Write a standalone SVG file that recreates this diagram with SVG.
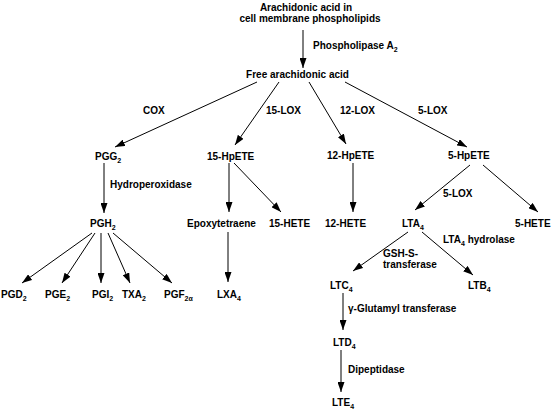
<svg xmlns="http://www.w3.org/2000/svg" width="552" height="413" viewBox="0 0 552 413">
<defs>
<marker id="ah" markerUnits="userSpaceOnUse" markerWidth="10" markerHeight="7" refX="10" refY="3.5" orient="auto">
<path d="M0,0 L10,3.5 L0,7 z" fill="#000"/>
</marker>
<style>
text{font-family:"Liberation Sans",Arial,sans-serif;font-weight:bold;font-size:10px;fill:#000}
.s{font-size:7px}
.c{text-anchor:middle}
#connectors line{stroke:#000;stroke-width:1;marker-end:url(#ah)}
</style>
</defs>
<rect width="552" height="413" fill="#fff"/>
<g id="connectors">
<line x1="303" y1="30" x2="303" y2="68"/>
<line x1="257" y1="82" x2="115" y2="147"/>
<line x1="279" y1="82" x2="235" y2="145"/>
<line x1="309" y1="82" x2="346" y2="144"/>
<line x1="345" y1="82" x2="467" y2="147"/>
<line x1="104" y1="163" x2="104" y2="213"/>
<line x1="229" y1="163" x2="229" y2="212"/>
<line x1="234" y1="163" x2="281" y2="212"/>
<line x1="353" y1="163" x2="353" y2="212"/>
<line x1="470" y1="165" x2="415" y2="210"/>
<line x1="483" y1="165" x2="538" y2="212"/>
<line x1="92" y1="233" x2="22" y2="283"/>
<line x1="95" y1="233" x2="62" y2="283"/>
<line x1="101" y1="233" x2="101" y2="283"/>
<line x1="108" y1="233" x2="130" y2="283"/>
<line x1="113" y1="233" x2="172" y2="283"/>
<line x1="228" y1="232" x2="228" y2="282"/>
<line x1="408" y1="232" x2="353" y2="271"/>
<line x1="422" y1="232" x2="473" y2="275"/>
<line x1="343" y1="293" x2="343" y2="330"/>
<line x1="341" y1="350" x2="341" y2="392"/>
</g>
<g id="labels">
<text x="313" y="49">Phospholipase A<tspan class="s" dy="3">2</tspan></text>
<text x="143" y="114">COX</text>
<text x="266" y="114">15-LOX</text>
<text x="340" y="114">12-LOX</text>
<text x="418" y="114">5-LOX</text>
<text x="110" y="188">Hydroperoxidase</text>
<text x="443" y="197">5-LOX</text>
<text x="443" y="243">LTA<tspan class="s" dy="3">4</tspan><tspan dy="-3"> hydrolase</tspan></text>
<text x="383" y="257">GSH-S-</text>
<text x="383" y="268">transferase</text>
<text x="348" y="312">γ-Glutamyl transferase</text>
<text x="348" y="373">Dipeptidase</text>
</g>
<g id="n-aa"><text class="c" x="306" y="10.5">Arachidonic acid in</text><text class="c" x="310" y="21.5">cell membrane phospholipids</text></g>
<g id="n-free"><text class="c" x="297.5" y="78">Free arachidonic acid</text></g>
<g id="n-pgg2"><text x="95" y="160">PGG<tspan class="s" dy="3">2</tspan></text></g>
<g id="n-15hpete"><text x="207" y="160">15-HpETE</text></g>
<g id="n-12hpete"><text x="327" y="159">12-HpETE</text></g>
<g id="n-5hpete"><text x="448" y="159">5-HpETE</text></g>
<g id="n-pgh2"><text x="90" y="227">PGH<tspan class="s" dy="3">2</tspan></text></g>
<g id="n-epoxy"><text x="187" y="227">Epoxytetraene</text></g>
<g id="n-15hete"><text x="269" y="227">15-HETE</text></g>
<g id="n-12hete"><text x="325" y="227">12-HETE</text></g>
<g id="n-lta4"><text x="402" y="227">LTA<tspan class="s" dy="3">4</tspan></text></g>
<g id="n-5hete"><text x="515" y="227">5-HETE</text></g>
<g id="n-pgd2"><text x="1" y="298">PGD<tspan class="s" dy="3">2</tspan></text></g>
<g id="n-pge2"><text x="45" y="298">PGE<tspan class="s" dy="3">2</tspan></text></g>
<g id="n-pgi2"><text x="92" y="298">PGI<tspan class="s" dy="3">2</tspan></text></g>
<g id="n-txa2"><text x="122" y="298">TXA<tspan class="s" dy="3">2</tspan></text></g>
<g id="n-pgf2a"><text x="164" y="298">PGF<tspan class="s" dy="3">2α</tspan></text></g>
<g id="n-lxa4"><text x="217" y="298">LXA<tspan class="s" dy="3">4</tspan></text></g>
<g id="n-ltc4"><text x="330" y="289">LTC<tspan class="s" dy="3">4</tspan></text></g>
<g id="n-ltb4"><text x="468" y="289">LTB<tspan class="s" dy="3">4</tspan></text></g>
<g id="n-ltd4"><text x="333" y="346">LTD<tspan class="s" dy="3">4</tspan></text></g>
<g id="n-lte4"><text x="332" y="406">LTE<tspan class="s" dy="3">4</tspan></text></g>
</svg>
